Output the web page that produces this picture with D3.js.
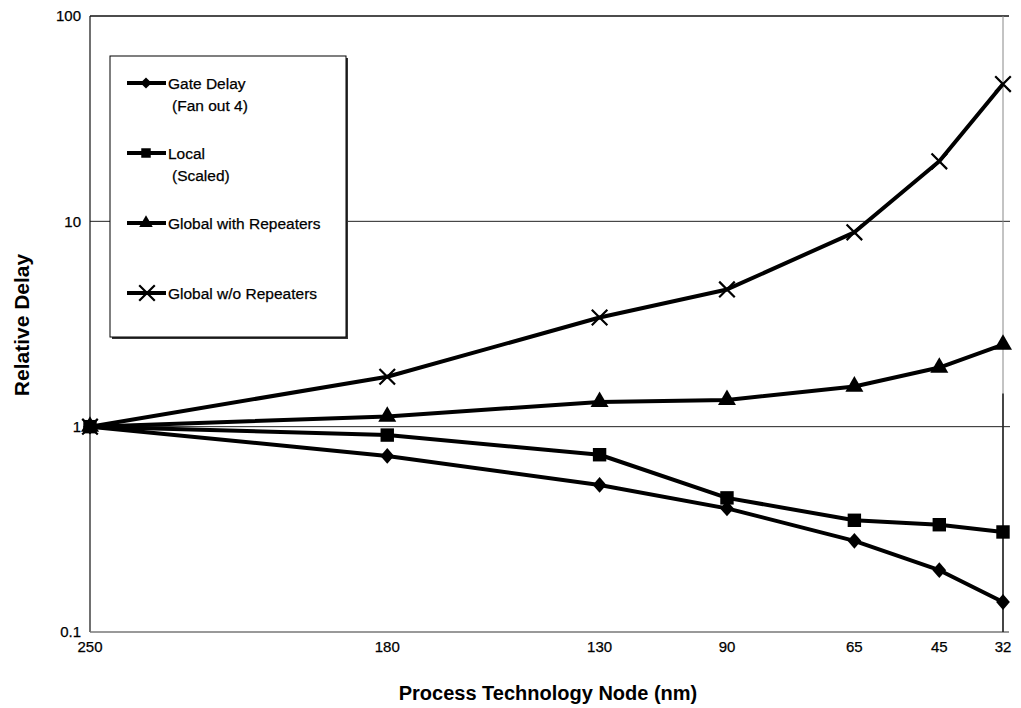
<!DOCTYPE html>
<html><head><meta charset="utf-8">
<script src="https://cdn.jsdelivr.net/npm/d3@7/dist/d3.min.js"></script>
<style>body{margin:0;background:#fff}svg{display:block}text{font-family:"Liberation Sans",Arial,sans-serif;fill:#000}.reg{stroke:#000;stroke-width:0.25px}</style>
</head><body>
<svg id="c" width="1021" height="708"></svg>
<script>
// ---- data ----
const nodes = ["250", "180", "130", "90", "65", "45", "32"];
const nodeAxisValue = [0, 7, 12, 15, 18, 20, 21.5]; // position along the (non-uniform) node axis
const gateDelay = [1, 0.72, 0.52, 0.40, 0.278, 0.20, 0.14];
const localScaled = [1, 0.91, 0.73, 0.45, 0.35, 0.333, 0.307];
const globalWithRep = [1, 1.12, 1.32, 1.35, 1.57, 1.94, 2.51];
const globalWithoutRep = [1, 1.75, 3.4, 4.66, 8.84, 19.6, 46.6];
const yTicks = [0.1, 1, 10, 100];

const svg = d3.select("#c");
const L = 90, R = 1003, T = 16, B = 632;
const x = d3.scaleLinear().domain([0, 21.5]).range([L, R]);
const y = d3.scaleLog().domain([0.1, 100]).range([B, T]);

// gridlines
svg.append("g").selectAll("line").data([1, 10]).join("line")
  .attr("x1", L).attr("x2", R + 7).attr("y1", d => y(d)).attr("y2", d => y(d))
  .attr("stroke", "#222").attr("stroke-width", 1);
// frame
svg.append("line").attr("x1", L).attr("x2", L).attr("y1", T).attr("y2", B).attr("stroke", "#111").attr("stroke-width", 1.2);
svg.append("line").attr("x1", L).attr("x2", R + 6).attr("y1", T).attr("y2", T).attr("stroke", "#111").attr("stroke-width", 1.6);
svg.append("line").attr("x1", L).attr("x2", R + 6).attr("y1", B).attr("y2", B).attr("stroke", "#777").attr("stroke-width", 1.6);
svg.append("line").attr("x1", R).attr("x2", R).attr("y1", T).attr("y2", B).attr("stroke", "#888").attr("stroke-width", 1);
svg.append("line").attr("x1", R).attr("x2", R).attr("y1", y(1.45)).attr("y2", B).attr("stroke", "#111").attr("stroke-width", 1.4);

// y tick labels
svg.append("g").selectAll("text").data(yTicks).join("text").attr("class", "reg")
  .attr("x", 81).attr("y", d => y(d)).attr("dy", "0.36em").attr("text-anchor", "end")
  .attr("font-size", 15).text(d => d);
// x tick labels
svg.append("g").selectAll("text").data(nodes).join("text").attr("class", "reg")
  .attr("x", (d, i) => x(nodeAxisValue[i])).attr("y", 652).attr("text-anchor", "middle")
  .attr("font-size", 15).text(d => d);

// axis titles
svg.append("text").attr("x", 548).attr("y", 700).attr("text-anchor", "middle")
  .attr("font-size", 20).attr("font-weight", "bold").text("Process Technology Node (nm)");
svg.append("text").attr("transform", "translate(29,325) rotate(-90)").attr("text-anchor", "middle")
  .attr("font-size", 21).attr("font-weight", "bold").text("Relative Delay");

// symbols
const sym = {
  diamond: d3.symbol().type(d3.symbolDiamond2).size(120),
  square: d3.symbol().type(d3.symbolSquare).size(180),
  triangle: d3.symbol().type(d3.symbolTriangle).size(140),
  cross: d3.symbol().type(d3.symbolX).size(160)
};
function marker(g, type, cx, cy) {
  if (type === "cross") {
    g.append("path").attr("d", sym.cross()).attr("transform", `translate(${cx},${cy})`)
      .attr("fill", "none").attr("stroke", "#000").attr("stroke-width", 2.2);
  } else if (type === "diamond") {
    g.append("path").attr("d", sym.diamond()).attr("transform", `translate(${cx},${cy}) scale(1,1.15)`).attr("fill", "#000");
  } else {
    g.append("path").attr("d", sym[type]()).attr("transform", `translate(${cx},${cy})`).attr("fill", "#000");
  }
}

const series = [
  { name: "Global w/o Repeaters", vals: globalWithoutRep, m: "cross" },
  { name: "Global with Repeaters", vals: globalWithRep, m: "triangle" },
  { name: "Gate Delay", vals: gateDelay, m: "diamond" },
  { name: "Local", vals: localScaled, m: "square" }
];
const line = d3.line().x((d, i) => x(nodeAxisValue[i])).y(d => y(d));
const lg = svg.append("g");
series.forEach(s => {
  lg.append("path").attr("d", line(s.vals)).attr("fill", "none").attr("stroke", "#000")
    .attr("stroke-width", 4).attr("stroke-linejoin", "round");
});
series.forEach(s => {
  const g = svg.append("g");
  s.vals.forEach((v, i) => marker(g, s.m, x(nodeAxisValue[i]), y(v)));
});

// legend
const leg = svg.append("g");
leg.append("rect").attr("x", 112).attr("y", 58).attr("width", 236).attr("height", 281).attr("fill", "#333");
leg.append("rect").attr("x", 110).attr("y", 56).attr("width", 236).attr("height", 281).attr("fill", "#fff").attr("stroke", "#000").attr("stroke-width", 1);
const legItems = [
  { lines: ["Gate Delay", "(Fan out 4)"], m: "diamond", y: 83 },
  { lines: ["Local", "(Scaled)"], m: "square", y: 153 },
  { lines: ["Global with Repeaters"], m: "triangle", y: 223 },
  { lines: ["Global w/o Repeaters"], m: "cross", y: 293 }
];
legItems.forEach(it => {
  leg.append("line").attr("x1", 127).attr("x2", 166).attr("y1", it.y).attr("y2", it.y).attr("stroke", "#000").attr("stroke-width", 4);
  const g = leg.append("g");
  if (it.m === "cross") marker(g, "cross", 147, it.y);
  else {
    const t = it.m;
    g.append("path").attr("d", d3.symbol().type(t === "diamond" ? d3.symbolDiamond2 : t === "square" ? d3.symbolSquare : d3.symbolTriangle).size(t === "square" ? 90 : 80)())
      .attr("transform", `translate(146,${it.y})`).attr("fill", "#000");
  }
  it.lines.forEach((tx, k) => {
    leg.append("text").attr("class", "reg").attr("x", k === 0 ? 168 : 172).attr("y", it.y + k * 22).attr("dy", "0.36em")
      .attr("font-size", 15.5).text(tx);
  });
});
</script>
</body></html>
